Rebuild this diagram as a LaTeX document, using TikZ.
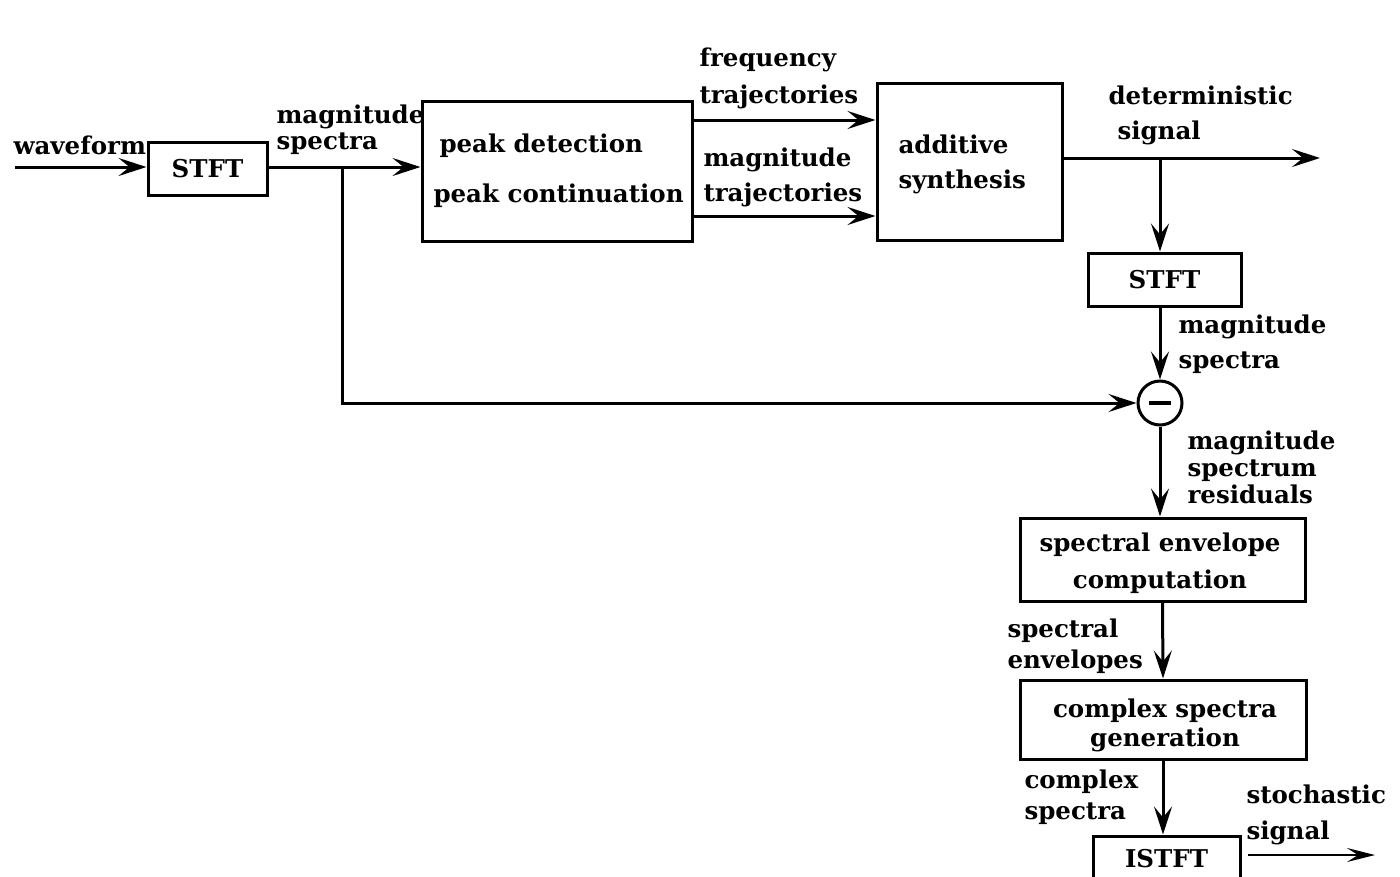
\documentclass[tikz,border=0pt]{standalone}
\usepackage{fontspec}
\setmainfont{DejaVu Serif}
\usetikzlibrary{arrows.meta}
\begin{document}
\begin{tikzpicture}[x=1pt,y=-1pt,line width=3pt,
  txt/.style={font=\bfseries\fontsize{24.5}{30}\selectfont},
  box/.style={draw,line width=3pt,inner sep=0pt,align=center,txt},
  btxt/.style={inner sep=0pt,txt},
  lbl/.style={inner sep=0pt,align=left,anchor=west,txt},
  arr/.style={-{Stealth[length=28pt,width=18pt,inset=11pt]},line width=3pt},
  sarr/.style={-{Stealth[length=28pt,width=14pt,inset=11pt]},line width=2.5pt}]
\useasboundingbox (0,0) rectangle (1400,876);
\fill[white] (0,0) rectangle (1400,876);
% boxes
\node[box,minimum width=119pt,minimum height=53pt] (stft1) at (207.5,168.5) {STFT};
\node[box,minimum width=270pt,minimum height=140pt] (peak) at (557,171) {};
\node[btxt,align=left,anchor=west] (peakt) at (432,171) {\hspace*{6pt}peak detection\\[20pt]peak continuation};
\node[box,minimum width=185pt,minimum height=157pt] (add) at (969.5,161.5) {};
\node[btxt,align=left,anchor=west] (addt) at (897,164.5) {additive\\[5pt]synthesis};
\node[box,minimum width=153pt,minimum height=53pt] (stft2) at (1164.5,279.5) {STFT};
\node[draw,circle,line width=3pt,minimum size=44pt,inner sep=0pt] (circ) at (1160,403) {\rule{22pt}{4pt}};
\node[box,minimum width=285pt,minimum height=83pt] (spec) at (1162.5,559.5) {};
\node[btxt,align=center] (spect) at (1160,563.5) {spectral envelope\\[7pt]computation};
\node[box,minimum width=286pt,minimum height=79pt] (cplx) at (1163,719.5) {};
\node[btxt,align=center] (cplxt) at (1165,725.5) {complex spectra\\[-1pt]generation};
\node[box,minimum width=147pt,minimum height=46pt] (istft) at (1166.5,859) {ISTFT};
% labels
\node[lbl] (lwave) at (12,145) {waveform};
\node[lbl] (lmag1) at (275,130) {magnitude\\[-4pt]spectra};
\node[lbl] (lfreq) at (698,78.5) {frequency\\[7pt]trajectories};
\node[lbl] (lmagt) at (702,177.5) {magnitude\\[5pt]trajectories};
\node[lbl] (ldet) at (1107,115.5) {deterministic\\[5pt]\hspace*{9pt}signal};
\node[lbl] (lmag2) at (1177,344.5) {magnitude\\[5pt]spectra};
\node[lbl] (lres) at (1186,467) {magnitude\\[-3pt]spectrum\\[-3pt]residuals};
\node[lbl] (lenv) at (1006,646.5) {spectral\\[1pt]envelopes};
\node[lbl] (lcs) at (1023,797.5) {complex\\[1pt]spectra};
\node[lbl] (lsto) at (1245,815) {stochastic\\[6pt]signal};
% coordinates
\coordinate (win) at (15,167);
\coordinate (br1) at (342,167);
\coordinate (ft) at (0,120);
\coordinate (mt) at (0,216);
\coordinate (dout) at (1320,158);
\coordinate (sout) at (1375,855);
% connectors
\draw[arr] (win) -- (stft1.west |- win);
\draw[arr] (stft1.east |- win) -- (peak.west |- win);
\draw[arr] (br1) |- (circ.west);
\draw[arr] (peak.east |- ft) -- (add.west |- ft);
\draw[arr] (peak.east |- mt) -- (add.west |- mt);
\draw[arr] (add.east |- dout) -- (dout);
\coordinate (br2) at (circ.north |- dout);
\draw[arr] (br2) -- (br2 |- stft2.north);
\draw[arr] (br2 |- stft2.south) -- (circ.north);
\draw[arr] (circ.south) -- (circ.south |- spec.north);
\draw[arr] (spec.south) -- (cplx.north);
\draw[arr] (cplx.south) -- (cplx.south |- istft.north);
\draw[sarr] ([xshift=6pt]istft.east |- sout) -- (sout);
\end{tikzpicture}
\end{document}
